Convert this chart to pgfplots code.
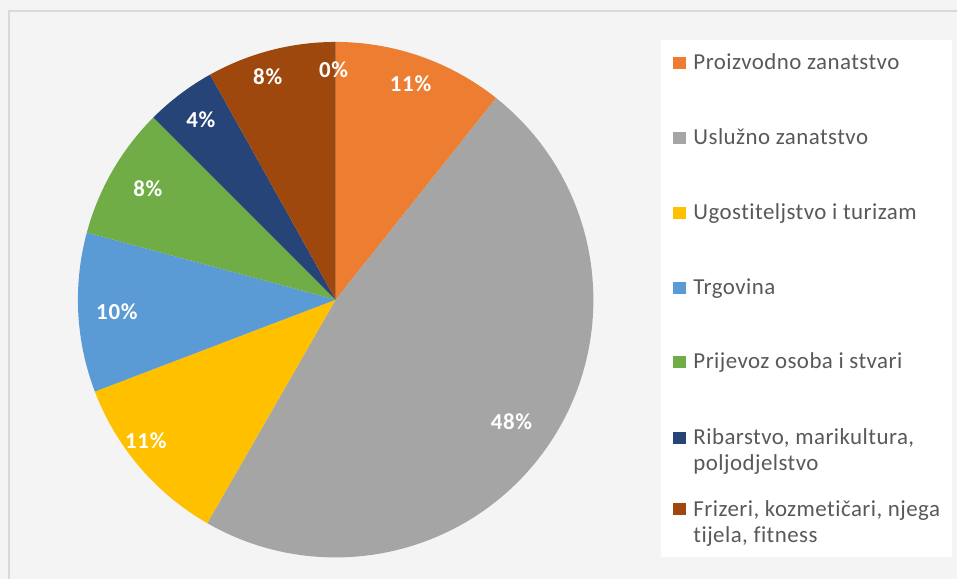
\documentclass[border=0pt]{standalone}
\usepackage{fontspec}
\setmainfont{Carlito}[Ligatures=NoCommon]
\newfontfamily\legf{Carlito}[Ligatures=NoCommon, LetterSpace=2]
\newfontfamily\labf{Carlito}[Ligatures=NoCommon, LetterSpace=3]
\usepackage{pgfplots}
\usepackage{pgfplotstable}
\pgfplotsset{compat=1.18}

\definecolor{c1}{HTML}{ED7D31}
\definecolor{c2}{HTML}{A5A5A5}
\definecolor{c3}{HTML}{FFC000}
\definecolor{c4}{HTML}{5B9BD5}
\definecolor{c5}{HTML}{70AD47}
\definecolor{c6}{HTML}{264478}
\definecolor{c7}{HTML}{9E480E}
\definecolor{legtext}{HTML}{595959}
\definecolor{bgpat}{HTML}{F4F4F4}
\definecolor{frame}{HTML}{D9D9D9}

\newcommand\labfont{\labf\fontsize{23}{27}\selectfont\bfseries}
\newcommand\legfont{\legf\fontsize{23}{27}\selectfont}

% legend row: baseline (pixels from top), colour, text
\newcommand\legitem[3]{%
  \fill[#2] (axis cs:674,{580-#1+1}) rectangle (axis cs:687,{580-#1+13});
  \node[anchor=base west, inner sep=0, text=legtext, font=\legfont]
    at (axis cs:694,{580-#1}) {#3};}
\newcommand\legline[2]{%
  \node[anchor=base west, inner sep=0, text=legtext, font=\legfont]
    at (axis cs:694,{580-#1}) {#2};}

% share in %, slice colour, label position (pixels from top left)
\pgfplotstableread{
val  col lx  ly
10.7 c1  411 84
47.6 c2  512 422
10.9 c3  146 441
10.0 c4  117 312
8.3  c5  148 189
4.4  c6  201 120
8.1  c7  268 77
0    c7  334 70
}\piedata

\begin{document}
\begin{tikzpicture}
\begin{axis}[
  x=1bp, y=1bp,
  xmin=0, xmax=958, ymin=0, ymax=580,
  hide axis, clip=false,
]
% background and frame
\fill[bgpat] (axis cs:0,0) rectangle (axis cs:958,580);
\draw[frame, line width=2bp] (axis cs:9,0) -- (axis cs:9,569) -- (axis cs:958,569);
\fill[white] (axis cs:662,22) rectangle (axis cs:953,540);

% pie slices, clockwise from the top
\pgfplotstablegetrowsof{\piedata}
\pgfmathtruncatemacro\nrows{\pgfplotsretval-1}
\def\cum{0}
\pgfplotsforeachungrouped \i in {0,...,\nrows}{%
  \pgfplotstablegetelem{\i}{val}\of\piedata \let\v\pgfplotsretval
  \pgfplotstablegetelem{\i}{col}\of\piedata \let\c\pgfplotsretval
  \pgfmathsetmacro\a{90-3.6*\cum}
  \pgfmathsetmacro\b{90-3.6*(\cum+\v)}
  \pgfmathsetmacro\xa{336+258*cos(\a)}
  \pgfmathsetmacro\ya{280+258*sin(\a)}
  \edef\cmd{\noexpand\fill[\c] (axis cs:336,280) -- (axis cs:\xa,\ya)
    arc[start angle=\a, end angle=\b, radius=258bp] -- cycle;}
  \cmd
  \pgfmathsetmacro\cum{\cum+\v}
}
% percentage labels
\pgfplotsforeachungrouped \i in {0,...,\nrows}{%
  \pgfplotstablegetelem{\i}{val}\of\piedata \let\v\pgfplotsretval
  \pgfplotstablegetelem{\i}{lx}\of\piedata \let\lx\pgfplotsretval
  \pgfplotstablegetelem{\i}{ly}\of\piedata \let\ly\pgfplotsretval
  \pgfmathtruncatemacro\lab{round(\v)}
  \pgfmathsetmacro\lyy{580-\ly}
  \edef\cmd{\noexpand\node[text=white, font=\noexpand\labfont, inner sep=0]
    at (axis cs:\lx,\lyy) {\lab\noexpand\%};}
  \cmd
}

% legend
\legitem{70}{c1}{Proizvodno zanatstvo}
\legitem{145}{c2}{Uslužno zanatstvo}
\legitem{220}{c3}{Ugostiteljstvo i turizam}
\legitem{295}{c4}{Trgovina}
\legitem{369}{c5}{Prijevoz osoba i stvari}
\legitem{445}{c6}{Ribarstvo, marikultura,}
\legline{471}{poljodjelstvo}
\legitem{517}{c7}{Frizeri, kozmetičari, njega}
\legline{543}{tijela, fitness}
\end{axis}
\end{tikzpicture}
\end{document}
